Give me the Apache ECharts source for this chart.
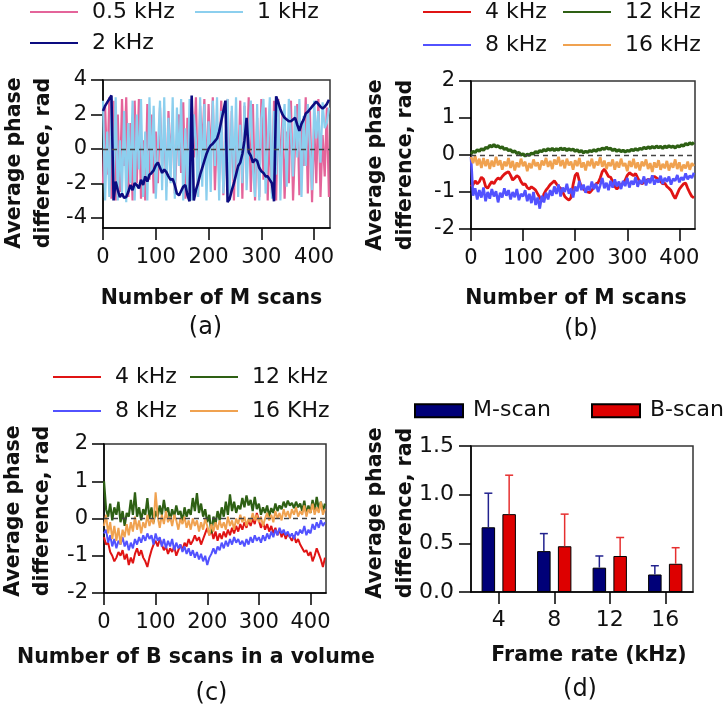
<!DOCTYPE html>
<html><head><meta charset="utf-8">
<script src="https://cdn.jsdelivr.net/npm/echarts@6/dist/echarts.min.js"></script>
<style>html,body{margin:0;padding:0;background:#fff;}#c{width:726px;height:708px;}</style>
</head><body><div id="c"></div>
<script>
// ---------- data ----------
const scanStep = 4; // one sample read every 4 scans
const scanTicks = [0, 100, 200, 300, 400];

// (a) M-scan phase, low frame rates
const a05kHz = [-2.0,2.5,-1.5,3.0,-2.9,2.8,-3.0,2.0,-2.5,2.9,-1.0,3.0,-2.8,1.5,-3.0,2.8,-2.0,2.9,-2.9,0.5,-3.0,2.6,-1.8,2.0,-2.6,1.0,-2.0,2.4,-1.0,0.8,-2.2,2.2,-0.5,1.5,-2.6,0.2,2.0,-1.4,2.7,-2.9,1.8,-2.5,2.9,-0.5,3.0,-2.8,2.5,0.0,2.9,-2.0,2.6,-0.8,3.0,-2.4,1.2,-1.5,2.8,-2.7,0.4,2.9,-2.0,2.2,-3.0,1.0,-1.6,2.8,-2.9,2.5,-1.2,3.0,-2.5,2.6,-3.0,1.8,-2.8,2.9,-1.8,2.4,-3.0,1.2,-2.6,2.8,-3.0,2.9,-1.5,2.0,-2.9,1.0,-2.0,2.8,-3.0,0.5,2.6,-2.7,1.6,-1.0,3.0,-2.6,2.2,-3.1,1.4,-2.0,2.9,-2.8,0.8,-1.6,2.4,-2.8];
const a1kHz = [2.8,-3.0,1.0,-2.8,2.9,-2.0,3.0,-3.0,0.5,-2.6,2.2,-3.1,1.5,-2.0,2.8,-3.0,2.0,-1.2,2.9,-2.8,1.0,-3.0,3.0,-1.5,2.5,-2.9,0.0,2.8,-2.4,3.0,-3.0,1.8,-2.0,3.0,-2.9,2.4,-1.0,2.9,-3.0,1.2,-2.6,2.9,-3.0,2.0,0.5,-2.8,3.0,-2.2,2.6,-3.0,1.6,-2.5,2.8,-1.0,3.0,-3.0,2.2,-2.6,0.8,2.9,-3.0,2.5,-1.8,3.0,-2.8,1.4,-2.0,2.7,-2.4,0.6,2.8,-1.2,-2.8,2.6,-3.0,1.8,2.9,-2.6,0.4,3.0,-2.9,2.2,-1.5,2.8,-3.0,1.0,2.6,-2.2,2.9,0.8,-1.6,2.5,-0.5,2.9,-2.8,1.9,-1.0,2.6,0.2,-2.4,2.8,0.6,2.2,-0.8,2.7,1.2,1.5,2.4];
const a2kHz = [2.2,2.5,2.7,2.9,3.1,-3.0,-1.9,-2.4,-2.8,-2.6,-2.85,-2.8,-2.5,-2.1,-2.4,-2.0,-2.1,-2.3,-1.8,-2.1,-1.6,-1.9,-1.5,-1.4,-1.25,-0.95,-0.8,-1.1,-1.4,-1.2,-1.35,-1.6,-1.8,-1.75,-2.1,-2.6,-2.7,-2.45,-2.2,-2.1,-2.7,-3.05,3.1,-3.0,-2.4,-2.0,-1.5,-1.1,-0.7,-0.3,0.0,0.2,0.3,0.45,0.6,1.0,1.6,2.2,2.8,-3.1,-2.9,-2.4,-2.0,-1.5,-1.0,-0.8,-0.3,0.5,1.8,-0.2,-0.4,-0.8,-0.6,-0.7,-1.1,-1.3,-1.4,-1.6,-1.6,-1.8,-2.0,-3.05,3.05,2.7,2.3,2.0,1.8,1.7,1.6,1.6,1.7,1.8,1.4,1.05,1.45,1.7,2.05,2.15,2.3,2.45,2.6,2.75,2.6,2.45,2.35,2.45,2.6,2.85];

// (b) M-scan phase, high frame rates
const b4kHz = [-0.85,-0.80,-0.70,-0.78,-0.72,-0.60,-0.65,-0.85,-0.90,-0.80,-0.72,-0.78,-0.68,-0.62,-0.66,-0.58,-0.52,-0.48,-0.45,-0.55,-0.68,-0.62,-0.56,-0.60,-0.72,-0.80,-0.78,-0.88,-0.92,-0.86,-0.90,-0.95,-1.05,-1.15,-1.25,-1.05,-0.95,-0.88,-0.80,-0.75,-0.70,-0.78,-0.85,-0.90,-1.00,-1.12,-1.18,-1.22,-1.15,-0.80,-0.55,-0.48,-0.70,-0.88,-0.92,-0.98,-1.00,-1.02,-0.95,-0.88,-0.78,-0.75,-0.62,-0.45,-0.38,-0.48,-0.58,-0.60,-0.72,-0.85,-0.92,-0.86,-0.80,-0.76,-0.68,-0.55,-0.48,-0.52,-0.56,-0.50,-0.62,-0.72,-0.78,-0.74,-0.70,-0.66,-0.68,-0.62,-0.58,-0.62,-0.66,-0.72,-0.78,-0.76,-0.85,-0.90,-0.96,-1.08,-1.18,-1.05,-0.92,-0.85,-0.78,-0.76,-0.90,-1.02,-1.12,-1.16];
const b8kHz = [-0.05,-1.10,-0.90,-1.20,-0.95,-1.15,-0.88,-1.25,-1.00,-1.18,-0.92,-1.12,-0.98,-1.28,-1.02,-1.15,-0.90,-1.10,-0.95,-1.20,-1.00,-1.14,-0.92,-1.22,-1.05,-1.12,-0.95,-1.25,-1.05,-1.30,-1.00,-1.35,-1.15,-1.45,-1.10,-1.28,-1.02,-1.20,-0.95,-1.10,-0.85,-1.05,-0.80,-1.12,-0.88,-1.00,-0.78,-1.05,-0.90,-1.15,-0.85,-0.98,-0.70,-0.95,-0.80,-1.02,-0.84,-0.96,-0.72,-0.92,-0.78,-1.00,-0.82,-0.62,-0.90,-0.75,-0.95,-0.70,-0.88,-0.66,-0.85,-0.72,-0.92,-0.70,-0.84,-0.62,-0.88,-0.70,-0.80,-0.60,-0.86,-0.68,-0.78,-0.58,-0.82,-0.64,-0.76,-0.55,-0.80,-0.66,-0.74,-0.56,-0.78,-0.62,-0.72,-0.58,-0.80,-0.64,-0.70,-0.54,-0.74,-0.60,-0.68,-0.50,-0.66,-0.56,-0.62,-0.48];
const b12kHz = [0.03,0.10,0.07,0.14,0.10,0.17,0.13,0.20,0.18,0.26,0.22,0.28,0.22,0.25,0.19,0.22,0.15,0.18,0.12,0.14,0.08,0.11,0.04,0.07,0.00,0.03,-0.03,0.02,-0.01,0.05,0.03,0.09,0.06,0.12,0.09,0.15,0.11,0.17,0.13,0.18,0.12,0.17,0.13,0.19,0.14,0.18,0.12,0.17,0.13,0.16,0.10,0.14,0.08,0.12,0.06,0.10,0.07,0.12,0.09,0.14,0.10,0.16,0.13,0.19,0.15,0.21,0.16,0.18,0.12,0.16,0.10,0.14,0.09,0.13,0.08,0.12,0.10,0.15,0.12,0.17,0.13,0.18,0.15,0.21,0.17,0.22,0.18,0.23,0.19,0.24,0.20,0.23,0.18,0.24,0.20,0.25,0.21,0.24,0.19,0.25,0.22,0.27,0.24,0.31,0.27,0.33,0.29,0.34];
const b16kHz = [-0.05,-0.22,-0.02,-0.28,-0.10,-0.35,-0.08,-0.30,-0.12,-0.38,-0.15,-0.32,-0.05,-0.28,-0.14,-0.40,-0.18,-0.30,-0.08,-0.35,-0.16,-0.42,-0.20,-0.33,-0.10,-0.30,-0.18,-0.44,-0.22,-0.36,-0.12,-0.30,-0.20,-0.40,-0.15,-0.28,-0.08,-0.32,-0.16,-0.38,-0.12,-0.26,-0.05,-0.30,-0.14,-0.36,-0.10,-0.28,-0.18,-0.40,-0.14,-0.30,-0.08,-0.34,-0.20,-0.42,-0.16,-0.30,-0.10,-0.36,-0.18,-0.28,-0.06,-0.32,-0.15,-0.38,-0.20,-0.30,-0.12,-0.40,-0.18,-0.34,-0.10,-0.30,-0.22,-0.44,-0.16,-0.32,-0.10,-0.36,-0.20,-0.42,-0.18,-0.30,-0.12,-0.38,-0.22,-0.46,-0.20,-0.34,-0.14,-0.40,-0.24,-0.36,-0.16,-0.42,-0.22,-0.34,-0.12,-0.38,-0.20,-0.44,-0.26,-0.36,-0.18,-0.40,-0.22,-0.30];

// (c) B-scan phase within a volume
const c4kHz = [-0.50,-0.70,-0.65,-0.90,-1.00,-1.15,-1.05,-0.90,-1.00,-0.85,-1.10,-0.95,-1.25,-1.05,-1.20,-0.95,-0.80,-1.00,-0.85,-1.05,-1.15,-1.30,-1.05,-0.85,-0.70,-0.60,-0.75,-0.55,-0.70,-0.85,-0.75,-0.95,-0.80,-0.90,-0.75,-1.00,-0.85,-0.70,-0.85,-0.65,-0.75,-0.55,-0.70,-0.60,-0.45,-0.60,-0.50,-0.70,-0.55,-0.40,-0.25,-0.45,-0.30,-0.55,-0.35,-0.60,-0.40,-0.55,-0.35,-0.50,-0.30,-0.45,-0.25,-0.40,-0.20,-0.35,-0.15,-0.30,-0.10,-0.25,-0.05,-0.20,0.00,-0.15,0.15,-0.05,-0.25,-0.10,-0.30,-0.15,-0.35,-0.20,-0.40,-0.25,-0.45,-0.30,-0.50,-0.35,-0.55,-0.40,-0.50,-0.60,-0.45,-0.65,-0.55,-0.70,-0.80,-0.90,-0.85,-1.00,-0.90,-1.15,-1.00,-0.80,-0.95,-1.10,-1.30,-1.05];
const c8kHz = [-0.40,-0.30,-0.65,-0.45,-0.75,-0.55,-0.80,-0.60,-0.70,-0.50,-0.75,-0.60,-0.85,-0.65,-0.80,-0.55,-0.70,-0.50,-0.65,-0.45,-0.60,-0.40,-0.55,-0.45,-0.70,-0.40,-0.60,-0.50,-0.75,-0.55,-0.80,-0.60,-0.75,-0.55,-0.85,-0.65,-0.80,-0.70,-0.90,-0.75,-0.95,-0.80,-1.00,-0.85,-1.05,-0.90,-1.10,-0.95,-1.15,-1.00,-1.25,-1.05,-0.95,-0.80,-0.95,-0.75,-0.85,-0.65,-0.80,-0.60,-0.75,-0.55,-0.70,-0.50,-0.65,-0.55,-0.70,-0.60,-0.75,-0.55,-0.70,-0.50,-0.65,-0.45,-0.60,-0.50,-0.65,-0.45,-0.60,-0.40,-0.55,-0.35,-0.50,-0.30,-0.45,-0.25,-0.40,-0.30,-0.45,-0.35,-0.50,-0.40,-0.55,-0.35,-0.45,-0.30,-0.40,-0.20,-0.45,-0.30,-0.40,-0.15,-0.30,-0.10,-0.25,-0.05,-0.20,-0.10];
const c12kHz = [1.0,0.25,0.05,0.40,-0.05,0.30,0.10,0.45,-0.10,0.20,-0.20,0.15,0.05,0.50,0.10,0.70,0.05,0.30,-0.05,0.25,0.10,0.55,0.00,0.30,-0.10,0.20,0.05,0.35,0.10,0.50,0.15,0.30,-0.05,0.25,0.05,0.35,0.10,0.20,-0.10,0.30,0.05,0.25,0.10,0.55,0.20,0.68,0.15,0.40,0.05,0.25,-0.10,0.10,-0.40,0.05,-0.15,0.20,-0.05,0.30,0.05,0.45,0.10,0.65,0.20,0.45,0.15,0.35,0.25,0.55,0.30,0.62,0.35,0.50,0.20,0.58,0.25,0.40,0.10,0.30,0.15,0.35,0.05,0.28,0.15,0.40,0.20,0.35,0.25,0.45,0.30,0.48,0.35,0.42,0.28,0.45,0.30,0.40,0.20,0.48,0.10,0.35,0.15,0.50,0.20,0.58,0.25,0.45,0.20,0.40];
const c16kHz = [-0.20,0.10,-0.40,-0.10,-0.55,-0.20,-0.60,-0.25,-0.70,-0.30,-0.50,-0.15,-0.45,-0.10,-0.35,0.05,-0.30,-0.05,-0.40,-0.10,-0.25,0.10,-0.20,0.00,-0.15,0.70,0.05,-0.25,0.10,-0.15,0.20,-0.10,0.05,-0.20,0.10,-0.05,-0.30,0.00,-0.15,0.05,-0.25,-0.05,-0.30,0.00,-0.20,-0.05,-0.35,-0.10,-0.30,0.00,-0.20,-0.45,-0.15,-0.35,-0.10,-0.30,-0.05,-0.25,-0.10,-0.30,0.05,-0.20,-0.05,-0.30,0.00,-0.15,0.10,-0.10,0.05,-0.20,0.00,-0.10,0.15,-0.05,0.10,-0.10,0.05,-0.20,0.00,0.15,-0.05,0.10,-0.10,0.20,0.00,0.15,-0.05,0.25,0.05,0.20,0.00,0.25,0.10,0.30,0.05,0.20,0.10,0.35,0.05,0.25,0.15,0.40,0.10,0.30,0.15,0.45,0.10,0.25];

// (d) mean phase difference vs frame rate
const frameRates = ['4', '8', '12', '16'];
const mScanMean = [0.665, 0.42, 0.25, 0.18];
const mScanErr  = [0.35, 0.18, 0.12, 0.09];
const bScanMean = [0.80, 0.47, 0.37, 0.29];
const bScanErr  = [0.40, 0.33, 0.19, 0.165];

// ---------- styling ----------
const FONT = 'DejaVu Sans';
const C = {
  p05: '#e4649a', p1: '#8ccfee', p2: '#0c0c80',
  r: '#e01414', g: '#2e6014', b: '#5252ff', o: '#f0a250',
  mBar: '#000078', bBar: '#dd0000', mErr: '#22228e', bErr: '#e63030'
};
const pair = arr => arr.map((v, i) => [i * scanStep, v]);

function scanX(gi) {
  return {
    type: 'value', gridIndex: gi, min: 0, max: 430,
    axisLine: { show: true, onZero: false, lineStyle: { color: '#000', width: 1.5 } },
    axisTick: { show: true, length: 12, customValues: scanTicks, lineStyle: { color: '#000', width: 1.5 } },
    axisLabel: { customValues: scanTicks, fontSize: 21, fontFamily: FONT, color: '#111', margin: 19 },
    splitLine: { show: false }
  };
}
function phaseY(gi, min, max, ticks) {
  return {
    type: 'value', gridIndex: gi, min: min, max: max,
    axisLine: { show: true, onZero: false, lineStyle: { color: '#000', width: 1.5 } },
    axisTick: { show: true, length: 12, customValues: ticks, lineStyle: { color: '#000', width: 1.5 } },
    axisLabel: { customValues: ticks, fontSize: 21, fontFamily: FONT, color: '#111', margin: 16 },
    splitLine: { show: false }
  };
}
function lineSeries(name, data, color, gi, width, extra) {
  return Object.assign({
    name: name, type: 'line', xAxisIndex: gi, yAxisIndex: gi,
    data: pair(data), showSymbol: false, symbol: 'none',
    lineStyle: { color: color, width: width }, itemStyle: { color: color },
    animation: false, silent: true
  }, extra || {});
}
const zeroLine = {
  markLine: {
    silent: true, symbol: ['none', 'none'], label: { show: false },
    lineStyle: { color: '#444', type: [5, 4], width: 1.3 },
    data: [{ yAxis: 0 }], animation: false
  }
};
function leg(name, left, top, extra) {
  return Object.assign({
    data: [name], left: left, top: top, padding: 0, itemGap: 0,
    itemWidth: 48, itemHeight: 2, icon: 'rect', selectedMode: false,
    textStyle: { fontSize: 22, fontFamily: FONT, color: '#111', lineHeight: 26, padding: [0, 0, 0, 9] }
  }, extra || {});
}
function errBar(offset, color) {
  return function (params, api) {
    const idx = api.value(0), mean = api.value(1), sd = api.value(2);
    const p0 = api.coord([idx, mean]);
    const p1 = api.coord([idx, mean + sd]);
    const x = p0[0] + offset;
    return {
      type: 'group', children: [
        { type: 'line', shape: { x1: x, y1: p0[1], x2: x, y2: p1[1] }, style: { stroke: color, lineWidth: 1.5 } },
        { type: 'line', shape: { x1: x - 4, y1: p1[1], x2: x + 4, y2: p1[1] }, style: { stroke: color, lineWidth: 1.5 } }
      ]
    };
  };
}
const barW = 13.5, barGapPx = 7.3;
const barOff = (barW + barGapPx) / 2;

function txt(text, x, y, size, bold, rot, lh) {
  return {
    type: 'text', x: x, y: y, rotation: rot || 0, silent: true,
    style: {
      text: text, fontSize: size, fontFamily: FONT, fontWeight: bold ? 'bold' : 'normal',
      fill: '#111', align: 'center', verticalAlign: 'middle', lineHeight: lh || size
    }
  };
}
const R = Math.PI / 2;
const grids = [
  { left: 103, top: 80, width: 227, height: 148 },
  { left: 471, top: 81, width: 224, height: 148 },
  { left: 104, top: 444, width: 222, height: 149 },
  { left: 471, top: 446, width: 222, height: 146 }
].map(g => Object.assign(g, { show: true, borderColor: '#333', borderWidth: 1.5, backgroundColor: 'transparent' }));

const option = {
  animation: false,
  backgroundColor: '#fff',
  textStyle: { fontFamily: FONT },
  grid: grids,
  xAxis: [
    scanX(0), scanX(1), scanX(2),
    {
      type: 'category', gridIndex: 3, data: frameRates, boundaryGap: true,
      axisLine: { show: true, lineStyle: { color: '#000', width: 1.5 } },
      axisTick: { show: true, alignWithLabel: true, length: 12, lineStyle: { color: '#000', width: 1.5 } },
      axisLabel: { fontSize: 22, fontFamily: FONT, color: '#111', margin: 17 }
    }
  ],
  yAxis: [
    phaseY(0, -4.6, 4, [-4, -2, 0, 2, 4]),
    phaseY(1, -2, 2, [-2, -1, 0, 1, 2]),
    phaseY(2, -2, 2, [-2, -1, 0, 1, 2]),
    {
      type: 'value', gridIndex: 3, min: 0, max: 1.5, interval: 0.5,
      axisLine: { show: true, lineStyle: { color: '#000', width: 1.5 } },
      axisTick: { show: true, length: 12, lineStyle: { color: '#000', width: 1.5 } },
      axisLabel: { fontSize: 22, fontFamily: FONT, color: '#111', margin: 17, formatter: v => v.toFixed(1) },
      splitLine: { show: false }
    }
  ],
  legend: [
    leg('0.5 kHz', 30, -1), leg('1 kHz', 195, -1), leg('2 kHz', 30, 30),
    leg('4 kHz', 423, -1), leg('12 kHz', 563, -1), leg('8 kHz', 423, 32), leg('16 kHz', 563, 32),
    leg('4 kHz', 53, 364), leg('12 kHz', 190, 364), leg('8 kHz', 53, 398), leg('16 KHz', 190, 398),
    leg('M-scan', 414, 397.7, { itemHeight: 13, textStyle: { fontSize: 22, fontFamily: FONT, color: '#111', lineHeight: 26, padding: [0, 0, 0, 5] } }),
    leg('B-scan', 591, 397.7, { itemHeight: 13, textStyle: { fontSize: 22, fontFamily: FONT, color: '#111', lineHeight: 26, padding: [0, 0, 0, 5] } })
  ],
  series: [
    lineSeries('0.5 kHz', a05kHz, C.p05, 0, 2.2, zeroLine),
    lineSeries('1 kHz', a1kHz, C.p1, 0, 2.2),
    lineSeries('2 kHz', a2kHz, C.p2, 0, 2.6),
    lineSeries('4 kHz', b4kHz, C.r, 1, 2.8, zeroLine),
    lineSeries('8 kHz', b8kHz, C.b, 1, 2.6),
    lineSeries('12 kHz', b12kHz, C.g, 1, 3.2),
    lineSeries('16 kHz', b16kHz, C.o, 1, 2.6),
    lineSeries('4 kHz', c4kHz, C.r, 2, 2, zeroLine),
    lineSeries('8 kHz', c8kHz, C.b, 2, 2),
    lineSeries('12 kHz', c12kHz, C.g, 2, 2.2),
    lineSeries('16 KHz', c16kHz, C.o, 2, 2),
    {
      name: 'M-scan', type: 'bar', xAxisIndex: 3, yAxisIndex: 3, data: mScanMean,
      barWidth: barW, barGap: (barGapPx / barW * 100).toFixed(0) + '%',
      itemStyle: { color: C.mBar, borderColor: '#000', borderWidth: 1 }, silent: true
    },
    {
      name: 'B-scan', type: 'bar', xAxisIndex: 3, yAxisIndex: 3, data: bScanMean,
      barWidth: barW,
      itemStyle: { color: C.bBar, borderColor: '#000', borderWidth: 1 }, silent: true
    },
    {
      name: 'M-scan err', type: 'custom', xAxisIndex: 3, yAxisIndex: 3, z: 5, silent: true,
      data: mScanMean.map((m, i) => [i, m, mScanErr[i]]), renderItem: errBar(-barOff, C.mErr)
    },
    {
      name: 'B-scan err', type: 'custom', xAxisIndex: 3, yAxisIndex: 3, z: 5, silent: true,
      data: bScanMean.map((m, i) => [i, m, bScanErr[i]]), renderItem: errBar(barOff, C.bErr)
    }
  ],
  graphic: [
    txt('Average phase\ndifference, rad', 29, 163, 20.5, true, R, 29),
    txt('Average phase\ndifference, rad', 391, 165, 20.5, true, R, 30),
    txt('Average phase\ndifference, rad', 28, 511, 20.5, true, R, 29),
    txt('Average phase\ndifference, rad', 391, 513, 20.5, true, R, 30),
    txt('Number of M scans', 211.5, 299, 20.5, true),
    txt('Number of M scans', 576, 299, 20.5, true),
    txt('Number of B scans in a volume', 196, 658, 20.5, true),
    txt('Frame rate (kHz)', 589, 656, 20.5, true),
    txt('(a)', 205.5, 328, 24, false),
    txt('(b)', 581, 330, 24, false),
    txt('(c)', 211.5, 694, 24, false),
    txt('(d)', 580, 690, 24, false)
  ]
};
const chart = echarts.init(document.getElementById('c'), null, { renderer: 'canvas' });
chart.setOption(option);
</script>
</body></html>
